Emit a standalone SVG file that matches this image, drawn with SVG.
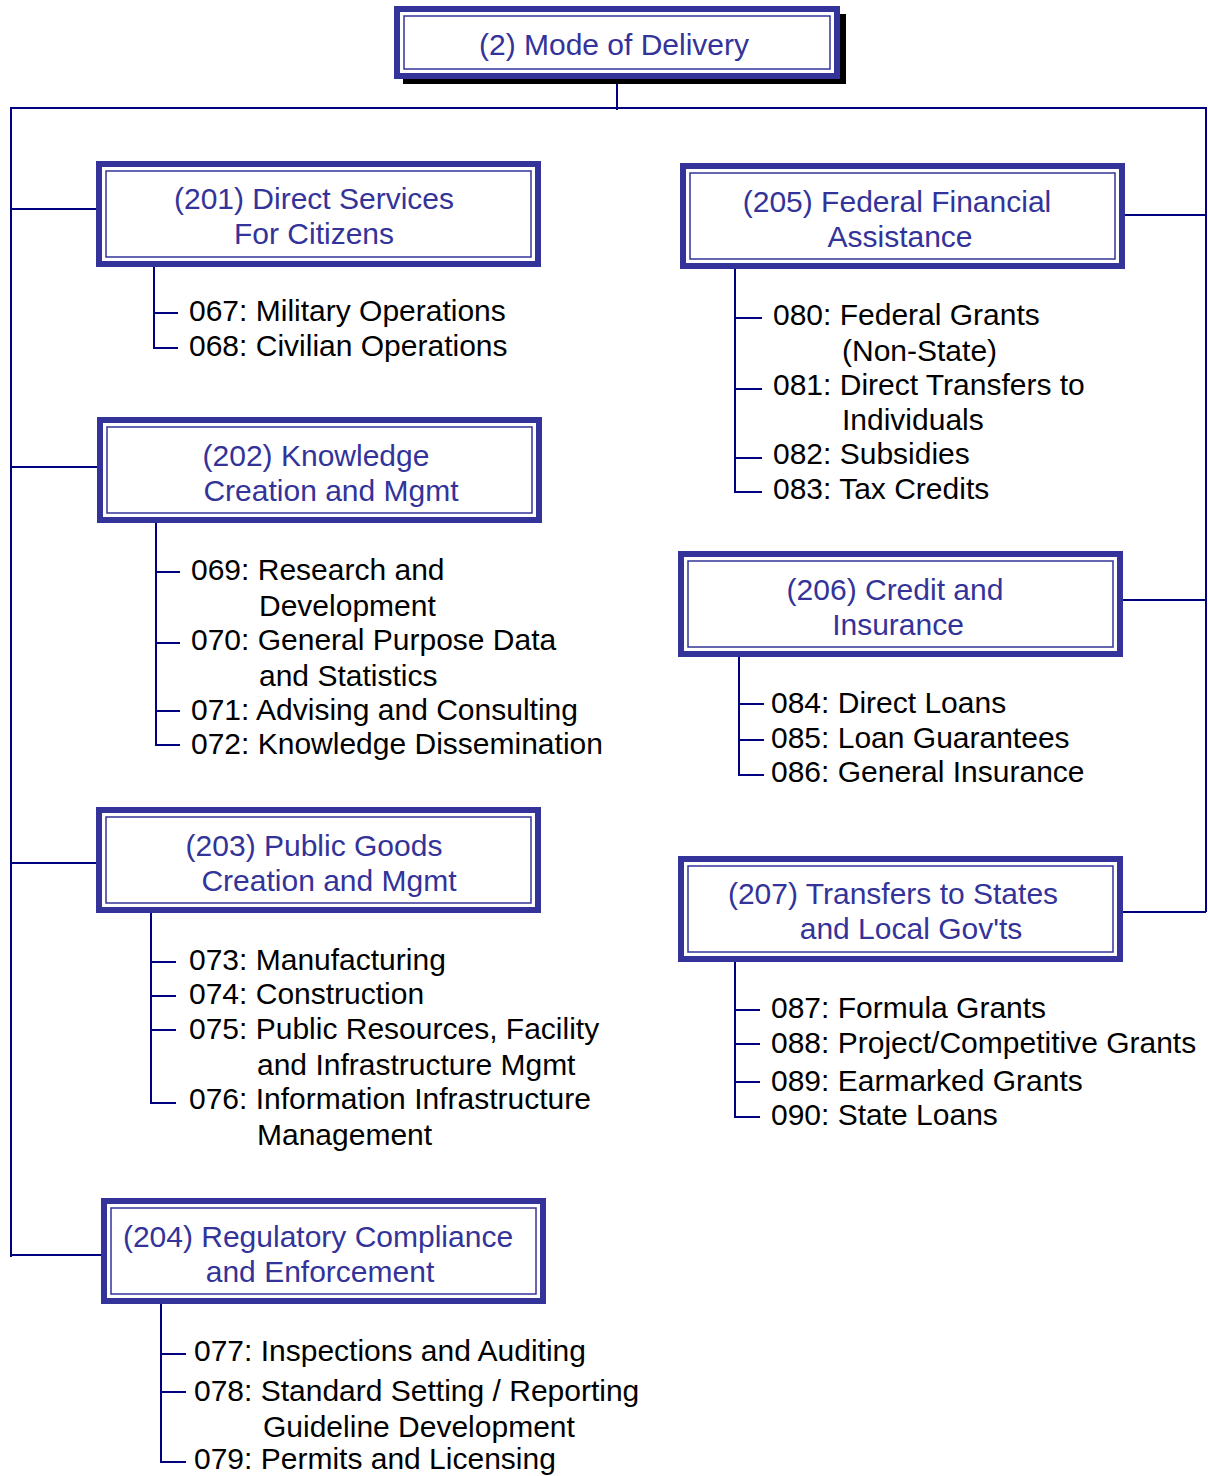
<svg xmlns="http://www.w3.org/2000/svg" width="1208" height="1476" viewBox="0 0 1208 1476">
<style>
.outer{fill:#ffffff;stroke:#333399;stroke-width:6}
.inner{fill:none;stroke:#333399;stroke-width:1.5}
.shadow{fill:#000000}
.nt{font-family:"Liberation Sans",Arial,sans-serif;font-size:30px;fill:#333399;text-anchor:middle}
.it{font-family:"Liberation Sans",Arial,sans-serif;font-size:30px;fill:#000000}
.ln{fill:none;stroke:#000080;stroke-width:2}
</style>
<rect width="1208" height="1476" fill="#ffffff"/>
<g id="connectors">
<path class="ln" d="M617 79V110M10 108H1207M11 108V1257M1206 108V912"/>
<path class="ln" d="M11 209H101M11 467H101M11 863H101M11 1255H105"/>
<path class="ln" d="M1125 215H1206M1123 600H1206M1123 912H1206"/>
<path class="ln" d="M154 267V348H178M154 313H178"/>
<path class="ln" d="M156 523V745H180M156 572H180M156 643H180M156 711H180"/>
<path class="ln" d="M151 913V1103H176M151 962H176M151 996H176M151 1030H176"/>
<path class="ln" d="M161 1304V1462H186M161 1354H186M161 1392H186"/>
<path class="ln" d="M735 269V492H762M735 318H762M735 389H762M735 458H762"/>
<path class="ln" d="M739 657V775H764M739 704H764M739 740H764"/>
<path class="ln" d="M735 962V1117H760M735 1010H760M735 1044H760M735 1082H760"/>
</g>
<g id="node-2">
<rect class="shadow" x="403" y="14" width="443" height="70"/>
<rect class="outer" x="397" y="9" width="440" height="67"/>
<rect class="inner" x="404" y="16" width="426" height="53"/>
<text class="nt" x="614" y="55">(2) Mode of Delivery</text>
</g>
<g id="node-201">
<rect class="outer" x="99" y="164" width="439" height="100"/>
<rect class="inner" x="106" y="171" width="425" height="86"/>
<text class="nt" x="314" y="209">(201) Direct Services</text>
<text class="nt" x="314" y="244">For Citizens</text>
</g>
<g id="items-201">
<text class="it" x="189" y="321">067: Military Operations</text>
<text class="it" x="189" y="356">068: Civilian Operations</text>
</g>
<g id="node-202">
<rect class="outer" x="100" y="420" width="439" height="100"/>
<rect class="inner" x="107" y="427" width="425" height="86"/>
<text class="nt" x="316" y="466">(202) Knowledge</text>
<text class="nt" x="331" y="501">Creation and Mgmt</text>
</g>
<g id="items-202">
<text class="it" x="191" y="580">069: Research and</text>
<text class="it" x="259" y="616">Development</text>
<text class="it" x="191" y="650">070: General Purpose Data</text>
<text class="it" x="259" y="686">and Statistics</text>
<text class="it" x="191" y="720">071: Advising and Consulting</text>
<text class="it" x="191" y="754">072: Knowledge Dissemination</text>
</g>
<g id="node-203">
<rect class="outer" x="99" y="810" width="439" height="100"/>
<rect class="inner" x="106" y="817" width="425" height="86"/>
<text class="nt" x="314" y="856">(203) Public Goods</text>
<text class="nt" x="329" y="891">Creation and Mgmt</text>
</g>
<g id="items-203">
<text class="it" x="189" y="970">073: Manufacturing</text>
<text class="it" x="189" y="1004">074: Construction</text>
<text class="it" x="189" y="1039">075: Public Resources, Facility</text>
<text class="it" x="257" y="1075">and Infrastructure Mgmt</text>
<text class="it" x="189" y="1109">076: Information Infrastructure</text>
<text class="it" x="257" y="1145">Management</text>
</g>
<g id="node-204">
<rect class="outer" x="104" y="1201" width="439" height="100"/>
<rect class="inner" x="111" y="1208" width="425" height="86"/>
<text class="nt" x="318" y="1247">(204) Regulatory Compliance</text>
<text class="nt" x="320" y="1282">and Enforcement</text>
</g>
<g id="items-204">
<text class="it" x="194" y="1361">077: Inspections and Auditing</text>
<text class="it" x="194" y="1401">078: Standard Setting / Reporting</text>
<text class="it" x="263" y="1437">Guideline Development</text>
<text class="it" x="194" y="1469">079: Permits and Licensing</text>
</g>
<g id="node-205">
<rect class="outer" x="683" y="166" width="439" height="100"/>
<rect class="inner" x="690" y="173" width="425" height="86"/>
<text class="nt" x="897" y="212">(205) Federal Financial</text>
<text class="nt" x="900" y="247">Assistance</text>
</g>
<g id="items-205">
<text class="it" x="773" y="325">080: Federal Grants</text>
<text class="it" x="842" y="361">(Non-State)</text>
<text class="it" x="773" y="395">081: Direct Transfers to</text>
<text class="it" x="842" y="430">Individuals</text>
<text class="it" x="773" y="464">082: Subsidies</text>
<text class="it" x="773" y="499">083: Tax Credits</text>
</g>
<g id="node-206">
<rect class="outer" x="681" y="554" width="439" height="100"/>
<rect class="inner" x="688" y="561" width="425" height="86"/>
<text class="nt" x="895" y="600">(206) Credit and</text>
<text class="nt" x="898" y="635">Insurance</text>
</g>
<g id="items-206">
<text class="it" x="771" y="713">084: Direct Loans</text>
<text class="it" x="771" y="748">085: Loan Guarantees</text>
<text class="it" x="771" y="782">086: General Insurance</text>
</g>
<g id="node-207">
<rect class="outer" x="681" y="859" width="439" height="100"/>
<rect class="inner" x="688" y="866" width="425" height="86"/>
<text class="nt" x="893" y="904">(207) Transfers to States</text>
<text class="nt" x="911" y="939">and Local Gov'ts</text>
</g>
<g id="items-207">
<text class="it" x="771" y="1018">087: Formula Grants</text>
<text class="it" x="771" y="1053">088: Project/Competitive Grants</text>
<text class="it" x="771" y="1091">089: Earmarked Grants</text>
<text class="it" x="771" y="1125">090: State Loans</text>
</g>
</svg>
